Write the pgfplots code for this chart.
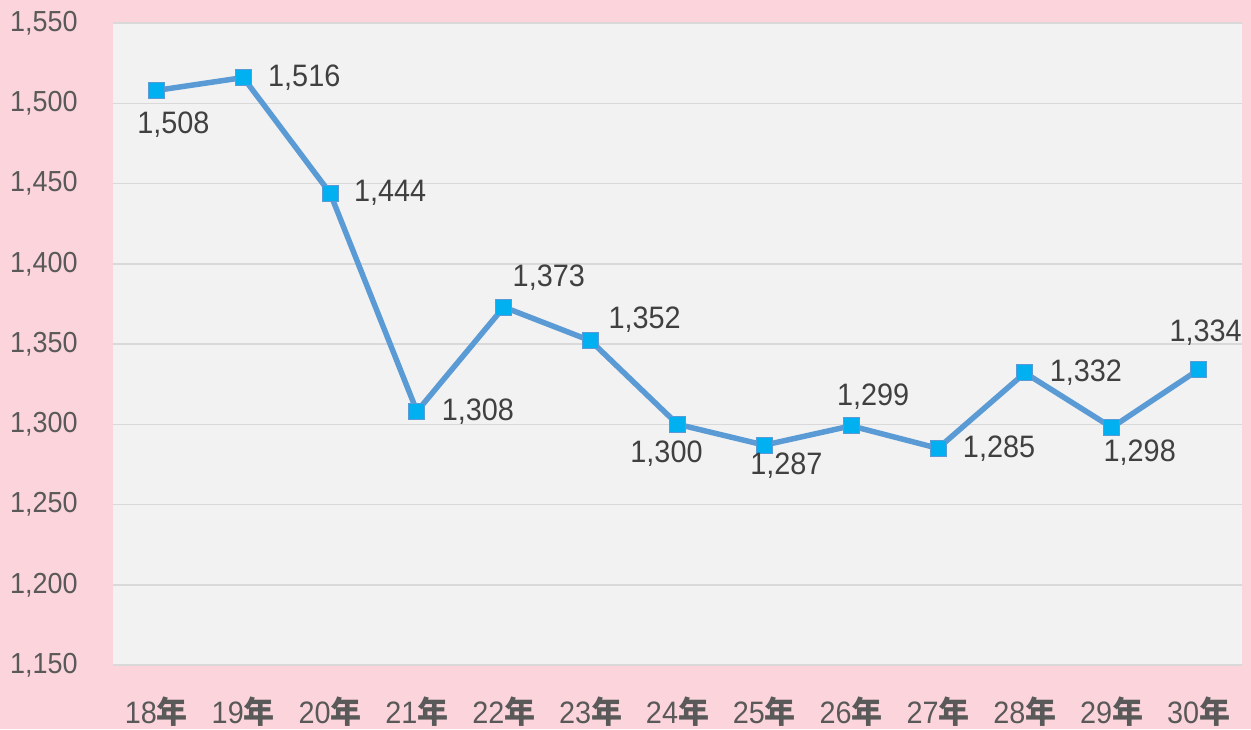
\documentclass[border=0pt]{standalone}
\usepackage{fontspec}
\setmainfont{Liberation Sans}[FakeStretch=0.93]
\newfontfamily\cjk{Noto Sans CJK JP}
\usepackage{pgfplots}
\usepackage{pgfplotstable}
\pgfplotsset{compat=1.18}
\definecolor{bgpink}{HTML}{FCD5DC}
\definecolor{plotbg}{HTML}{F2F2F2}
\definecolor{gridc}{HTML}{D9D9D9}
\definecolor{lineblue}{HTML}{5B9BD5}
\definecolor{markcyan}{HTML}{00B0F0}
\definecolor{ticktext}{HTML}{595959}
\definecolor{labtext}{HTML}{404040}
\newcommand{\nen}{{\cjk\bfseries 年}}
\pgfplotstableread{
x y dx dy
0 1508 8.5 -17
1 1516 30.5 0
2 1444 30 0
3 1308 30.5 0
4 1373 22.5 14.5
5 1352 27 10.5
6 1300 -5.5 -14.5
7 1287 11 -10.5
8 1299 11 14.5
9 1285 30.5 0
10 1332 30.5 0
11 1298 14 -12.5
12 1334 3.5 18.5
}\datatable
\begin{document}
\begin{tikzpicture}
\fill[bgpink] (-56.5pt,-32pt) rectangle (569pt,332.5pt);
\begin{axis}[
  at={(0,0)}, anchor=south west,
  scale only axis, width=564.5pt, height=321pt,
  xmin=-0.5, xmax=12.5, ymin=1150, ymax=1550,
  ytick={1150,1200,...,1550},
  xtick={0,...,12},
  xticklabels={18\nen,19\nen,20\nen,21\nen,22\nen,23\nen,24\nen,25\nen,26\nen,27\nen,28\nen,29\nen,30\nen},
  scaled y ticks=false,
  /pgf/number format/.cd, 1000 sep={,}, assume math mode=true, /pgfplots/.cd,
  axis line style={draw=none},
  axis background/.style={fill=plotbg},
  ymajorgrids, grid style={draw=gridc, line width=0.75pt},
  major tick length=0pt,
  tick label style={text=ticktext},
  yticklabel style={font=\fontsize{14.5}{17}\selectfont, anchor=east, inner sep=0pt, xshift=-17.5pt},
  xticklabel style={font=\fontsize{15.5}{18}\selectfont, anchor=north, inner sep=0pt, yshift=-15.5pt},
  clip=false,
]
\addplot[color=lineblue, line width=2.75pt, mark=square*, mark size=4pt,
  mark options={fill=markcyan, draw=lineblue, line width=0.5pt},
  visualization depends on={\thisrow{dx} \as \dx},
  visualization depends on={\thisrow{dy} \as \dy},
  nodes near coords,
  every node near coord/.append style={anchor=center, inner sep=0pt, xshift=\dx pt, yshift=\dy pt,
    font=\fontsize{15.5}{18}\selectfont, text=labtext}
] table[x=x, y=y] {\datatable};
\end{axis}
\end{tikzpicture}
\end{document}
